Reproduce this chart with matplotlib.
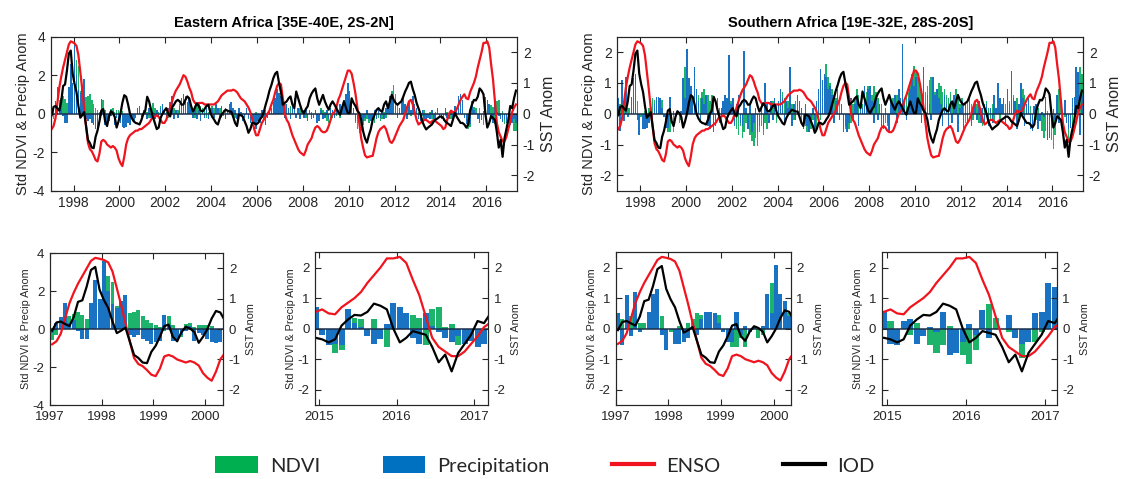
import numpy as np
import matplotlib
matplotlib.use('Agg')
import matplotlib.pyplot as plt
from matplotlib.patches import Patch
from matplotlib.lines import Line2D

plt.rcParams['font.family'] = ['Liberation Sans', 'DejaVu Sans']

# 月值数据：1997年1月 - 2017年4月（每行一年）
start_year = 1997

enso = [
    -0.5, -0.4, -0.15, 0.35, 0.85, 1.2, 1.5, 1.75, 2.0, 2.25, 2.35, 2.32,
    2.28, 2.2, 1.9, 1.35, 0.8, 0.2, -0.4, -0.95, -1.15, -1.22, -1.35, -1.5,
    -1.55, -1.3, -0.9, -0.85, -0.9, -1.0, -1.05, -1.1, -1.05, -1.1, -1.2, -1.45,
    -1.6, -1.7, -1.4, -1.0, -0.8, -0.7, -0.65, -0.6, -0.55, -0.55, -0.5, -0.5,
    -0.45, -0.4, -0.35, -0.3, -0.2, -0.1, -0.1, -0.05, -0.1, -0.2, -0.3, -0.3,
    -0.2, 0.0, 0.2, 0.4, 0.6, 0.75, 0.85, 0.95, 1.1, 1.25, 1.2, 1.05,
    0.85, 0.7, 0.45, 0.35, 0.3, 0.35, 0.35, 0.35, 0.3, 0.3, 0.3, 0.3,
    0.3, 0.3, 0.35, 0.4, 0.5, 0.6, 0.65, 0.7, 0.75, 0.75, 0.75, 0.78,
    0.75, 0.7, 0.6, 0.5, 0.45, 0.4, 0.3, 0.2, 0.05, -0.2, -0.5, -0.7,
    -0.7, -0.5, -0.3, -0.2, -0.1, 0.0, 0.1, 0.3, 0.45, 0.7, 0.9, 1.0,
    0.95, 0.5, 0.0, -0.2, -0.3, -0.5, -0.7, -0.85, -1.0, -1.15, -1.25, -1.3,
    -1.35, -1.2, -1.0, -0.9, -0.8, -0.6, -0.45, -0.4, -0.45, -0.55, -0.6, -0.6,
    -0.55, -0.4, -0.2, 0.0, 0.05, 0.2, 0.45, 0.6, 0.8, 1.0, 1.2, 1.4,
    1.4, 1.3, 1.0, 0.65, 0.2, -0.3, -0.8, -1.1, -1.35, -1.42, -1.4, -1.38,
    -1.37, -1.1, -0.8, -0.6, -0.5, -0.45, -0.4, -0.5, -0.7, -0.9, -0.95, -0.85,
    -0.7, -0.55, -0.4, -0.3, -0.2, 0.0, 0.2, 0.4, 0.45, 0.3, 0.05, -0.2,
    -0.35, -0.3, -0.25, -0.2, -0.2, -0.25, -0.3, -0.25, -0.2, -0.25, -0.3, -0.35,
    -0.4, -0.5, -0.45, -0.2, 0.0, 0.1, 0.05, 0.05, 0.15, 0.3, 0.45, 0.55,
    0.63, 0.5, 0.47, 0.7, 0.85, 1.0, 1.2, 1.5, 1.75, 2.0, 2.3, 2.3,
    2.35, 2.15, 1.6, 1.1, 0.4, -0.3, -0.6, -0.75, -0.9, -0.9, -0.75, -0.5,
    -0.25, 0.05, 0.2, 0.3,
]

iod = [
    -0.05, 0.22, 0.25, 0.17, 0.1, 0.4, 0.9, 0.95, 1.4, 1.95, 2.05, 1.3,
    0.96, 0.7, 0.25, -0.13, -0.05, 0.05, -0.4, -0.85, -0.95, -1.1, -1.12, -0.75,
    -0.55, -0.25, 0.1, 0.15, -0.25, -0.4, -0.1, 0.08, 0.02, -0.1, -0.45, -0.25,
    0.0, 0.35, 0.6, 0.55, 0.3, 0.0, -0.15, -0.25, -0.3, -0.32, -0.35, -0.2,
    0.0, 0.1, 0.55, 0.4, 0.13, -0.1, -0.3, -0.5, -0.45, -0.14, 0.0, 0.1,
    0.18, 0.0, -0.09, 0.2, 0.29, 0.4, 0.45, 0.4, 0.29, 0.3, 0.45, 0.56,
    0.5, 0.25, 0.07, 0.2, 0.34, 0.25, 0.1, 0.07, 0.15, 0.25, 0.29, 0.05,
    -0.1, -0.19, -0.3, -0.35, -0.15, -0.03, 0.05, 0.13, 0.1, 0.07, 0.07, -0.1,
    -0.3, -0.4, -0.03, -0.05, -0.09, -0.25, -0.4, -0.62, -0.5, -0.3, -0.3, -0.35,
    -0.3, -0.19, -0.1, 0.05, 0.29, 0.5, 0.75, 0.93, 1.15, 1.3, 1.36, 1.0,
    0.7, 0.29, 0.35, 0.4, 0.5, 0.56, 0.3, 0.18, 0.72, 0.5, 0.29, 0.1,
    0.02, 0.15, 0.24, 0.5, 0.65, 0.75, 0.82, 0.5, 0.29, 0.45, 0.61, 0.4,
    0.25, 0.13, 0.3, 0.4, 0.3, 0.18, 0.05, -0.03, 0.2, 0.4, 0.2, 0.02,
    0.02, 0.5, 0.35, 0.25, 0.1, 0.02, -0.2, -0.57, -0.8, -0.94, -0.7, -0.51,
    -0.2, -0.03, 0.12, 0.18, 0.1, 0.07, 0.3, 0.4, 0.18, 0.4, 0.61, 0.45,
    0.35, 0.29, 0.35, 0.4, 0.55, 0.72, 0.85, 1.0, 1.04, 0.8, 0.61, 0.35,
    0.18, 0.0, -0.25, -0.4, -0.51, -0.45, -0.4, -0.35, -0.25, -0.19, -0.15, -0.1,
    -0.09, -0.15, -0.25, -0.3, -0.35, -0.4, -0.2, 0.02, -0.1, -0.2, -0.3, -0.3,
    -0.35, -0.45, -0.35, 0.1, 0.3, 0.45, 0.43, 0.55, 0.82, 0.75, 0.63, 0.0,
    -0.45, -0.3, -0.08, -0.14, -0.2, -0.6, -1.1, -0.85, -1.4, -0.8, -0.5, -0.2,
    0.25, 0.18, 0.5, 0.75,
]

east_ndvi = [
    -0.55, -0.3, 0.3, 0.2, 0.7, 0.8, 0.9, 0.75, 0.55, 0.2, 0.3, 1.0,
    0.9, 2.8, 2.5, 1.2, 0.6, 0.4, 0.85, 0.9, 1.0, 0.7, 0.5, 0.3,
    0.2, 0.1, -0.1, 0.7, 0.2, -0.2, -0.4, 0.25, 0.3, 0.1, 0.2, 0.2,
    0.2, 0.15, -0.1, -0.2, -0.4, -0.3, -0.2, -0.4, -0.2, 0.1, 0.2, -0.1,
    0.2, 0.3, 0.1, -0.2, 0.3, 0.55, 0.3, 0.2, 0.1, 0.4, 0.3, 0.2,
    0.1, -0.2, 0.5, 0.45, 0.3, 0.1, 0.2, 0.5, 0.4, 0.3, 0.2, 0.1,
    0.5, 0.4, 0.2, -0.2, 0.45, 0.5, 0.4, 0.3, 0.2, -0.2, 0.1, 0.3,
    0.4, 0.3, 0.2, 0.1, 0.3, 0.2, -0.1, 0.3, 0.2, 0.1, 0.2, 0.1,
    -0.2, -0.1, 0.2, 0.1, -0.3, -0.2, 0.1, -0.3, -0.4, -0.3, -0.2, 0.1,
    -0.3, -0.4, -0.2, 0.1, 0.2, -0.2, 0.2, 0.1, 0.3, 0.5, 0.3, 0.6,
    0.8, 0.7, 0.5, 0.3, 0.2, 0.4, 0.2, 0.1, -0.1, 0.2, 0.3, 0.1,
    0.2, -0.2, -0.3, 0.2, 0.1, -0.2, 0.1, -0.1, -0.2, 0.3, 0.2, 0.1,
    -0.4, -0.5, -0.3, -0.2, 0.1, -0.1, 0.2, -0.2, 0.4, 0.6, 0.5, 0.3,
    0.6, 0.8, 0.3, -0.5, -0.8, -1.0, -0.9, -0.6, -0.4, -0.3, -0.5, -0.4,
    -0.6, -0.5, -0.3, -0.2, -0.4, -0.3, 0.1, -0.2, 0.3, 0.6, 1.2, 1.5,
    1.0, 0.5, 0.3, 0.4, 0.5, 0.2, 0.4, 0.3, -0.1, 0.2, 0.3, 0.2,
    0.1, -0.2, -0.1, 0.2, -0.3, -0.2, 0.1, -0.3, -0.2, 0.1, 0.2, -0.1,
    -0.2, -0.3, -0.1, 0.1, -0.2, -0.3, -0.1, 0.2, 0.3, 0.2, 0.4, 0.5,
    0.0, -0.3, -0.8, -0.7, 0.1, 0.35, 0.3, -0.1, 0.3, -0.1, -0.6, 0.2,
    0.1, 0.3, 0.45, 0.35, -0.55, 0.65, 0.7, 0.05, 0.15, -0.55, -0.2, -0.1,
    -0.2, -0.3, -0.9, -0.9,
]

east_precip = [
    -0.2, 0.3, 0.65, 1.4, 0.3, 0.5, -0.1, -0.5, -0.5, 1.4, 2.6, 1.6,
    3.6, 2.0, 1.3, 1.1, 1.5, 1.8, -0.3, -0.4, -0.3, -0.5, -0.6, -0.8,
    -0.7, -0.6, 0.75, 0.2, -0.6, -0.5, -0.3, -0.1, 0.15, -0.6, -0.2, -0.3,
    -0.5, -0.7, -0.75, -0.7, -0.5, -0.6, -0.3, -0.4, -0.2, 0.3, 0.4, -0.3,
    0.2, 0.4, -0.3, 0.3, -0.2, 0.1, -0.3, 0.2, -0.2, 0.3, 0.5, 0.2,
    -0.2, 0.3, 0.6, 0.9, -0.3, 0.2, -0.2, 0.4, 0.8, 1.0, 0.9, 0.6,
    0.8, 0.3, -0.2, 0.4, -0.3, 0.2, -0.4, 0.2, -0.2, 0.3, -0.3, 0.2,
    0.3, -0.2, 0.5, 0.3, -0.3, 0.4, 0.2, -0.3, 0.2, 0.5, 0.6, 0.3,
    0.2, -0.3, 0.3, 0.1, -0.4, -0.2, 0.3, -0.2, -0.5, -0.3, -0.6, -0.8,
    -0.4, -0.5, 0.2, -0.3, -0.6, -0.2, 0.2, 0.3, 0.6, 0.8, 1.3, 1.1,
    0.9, 0.4, -0.2, 0.5, 0.3, -0.3, 0.4, 0.8, -0.2, 0.3, -0.3, 0.2,
    -0.2, 0.3, -0.4, 0.2, -0.3, -0.2, 0.2, -0.5, -0.4, 0.2, -0.3, -0.2,
    0.2, -0.3, 0.3, 0.2, -0.2, 0.4, 0.2, 0.5, 0.3, 0.7, 1.0, 1.6,
    1.2, 0.5, 0.3, -0.4, -0.3, -0.2, -0.3, -0.4, -0.2, 0.2, -0.3, -0.4,
    -0.3, 0.2, -0.3, 0.3, -0.2, 0.2, -0.3, 0.3, 0.4, 0.9, 1.0, 0.7,
    0.4, -0.2, 0.3, 0.6, 0.8, 0.5, -0.3, 0.6, 0.2, 0.9, 0.5, 0.3,
    -0.3, -0.4, 0.2, -0.3, -0.4, -0.2, -0.3, 0.2, -0.4, -0.3, 0.3, -0.2,
    -0.3, -0.4, 0.3, -0.2, -0.3, 0.2, -0.3, 0.4, 0.2, 0.9, 1.0, 0.7,
    -0.2, -0.55, -0.5, -0.55, 0.65, 0.2, 0.05, -0.25, -0.5, -0.35, 0.15, 0.85,
    0.7, 0.5, -0.3, -0.5, 0.5, 0.1, -0.1, -0.3, -0.45, -0.25, -0.5, -0.4,
    -0.6, -0.5, -0.3, -0.5,
]

south_ndvi = [
    0.3, 0.3, 0.8, 0.4, 0.1, 0.2, 0.2, 0.3, 0.65, 0.65, 0.4, -0.1,
    -0.1, -0.25, 0.1, 0.0, 0.2, 0.3, 0.5, 0.45, 0.2, 0.3, 0.2, 0.45,
    0.0, -0.1, -0.6, -0.6, -0.3, -0.6, -0.1, 0.0, -0.3, -0.2, 0.3, 1.5,
    0.6, 0.5, 0.9, 0.5, 1.0, 0.7, 0.6, 0.5, 0.7, 0.8, 0.5, 0.6,
    0.4, 0.6, 0.3, -0.2, 0.3, 0.2, -0.3, 0.4, 0.5, 0.3, 0.2, 0.4,
    0.3, -0.2, -0.5, -0.7, -0.4, -0.8, -0.6, -0.3, -0.5, -0.7, -0.9, -1.05,
    -0.8, -1.05, -0.6, -0.4, -0.7, -0.3, -0.5, -0.2, 0.2, 0.4, 0.3, -0.3,
    0.3, 0.6, 0.7, 0.5, 0.2, 0.4, 0.6, 0.3, -0.2, 0.4, 0.5, 0.3,
    -0.3, -0.5, -0.4, -0.6, -0.3, -0.5, -0.2, -0.4, -0.6, -0.3, -0.2, 0.4,
    0.9, 1.6, 1.2, 1.0, 0.8, 0.6, 0.5, 0.6, 0.4, 0.3, -0.2, -0.5,
    -0.4, -0.5, -0.3, 0.3, 0.5, 0.8, 0.6, 0.4, 0.3, 0.5, 0.7, 0.9,
    0.8, 0.6, 0.9, 0.7, 0.5, 0.2, 0.3, -0.2, -0.3, -0.4, -0.2, 0.3,
    0.5, 0.4, 0.6, 0.8, 0.3, 0.5, 0.4, 0.6, 0.7, 1.0, 1.3, 1.55,
    1.4, 1.2, 1.0, 0.8, 0.6, 0.7, 0.9, 1.1, 1.2, 0.9, 0.7, 0.8,
    1.0, 0.9, 0.7, 0.8, 0.6, 0.5, 0.7, 0.4, 0.6, 0.8, 0.5, 0.3,
    0.5, 0.3, -0.3, 0.4, 0.2, 0.3, -0.2, 0.4, 0.3, -0.3, 0.2, -0.4,
    0.3, 0.4, 0.2, -0.2, 0.3, -0.3, 0.2, 0.4, -0.2, 0.3, 0.5, 0.3,
    0.6, 0.4, 0.8, 0.6, 0.3, 0.5, -0.2, 0.4, 0.8, 0.6, 0.3, 0.0,
    0.25, -0.3, 0.0, -0.2, 0.2, -0.1, -0.55, -0.8, -0.55, 0.1, -0.4, -0.85,
    -1.15, -0.7, 0.1, 0.8, 0.35, 0.0, -0.1, -0.2, -0.95, -0.4, -0.45, -0.1,
    0.3, 0.5, 1.5, 1.3,
]

south_precip = [
    0.5, -0.55, 1.1, -0.25, 1.2, -0.1, 0.0, 0.55, 1.15, 1.3, -0.2, -0.7,
    0.0, -0.5, -0.5, -0.45, -0.3, 0.1, -0.2, 0.3, 0.55, 0.55, 0.5, 0.2,
    -0.1, -0.45, -0.45, 0.55, -0.2, 0.1, -0.1, 0.05, 0.0, 0.1, 1.15, 0.5,
    2.1, 1.15, 0.9, 0.4, 1.5, 0.8, 0.4, -0.3, 0.5, 0.3, 0.6, -0.4,
    -0.5, 0.3, -0.6, -0.4, 0.5, -0.3, 0.2, 0.4, 0.6, 0.5, 1.9, 0.3,
    0.5, -0.4, 0.3, 0.6, -0.3, -0.4, 2.05, 0.2, -0.5, 0.3, -0.6, -0.3,
    0.2, -0.6, -0.4, 0.3, -0.5, 1.0, 0.3, -0.3, 0.4, -0.2, 0.5, 0.3,
    0.4, 0.8, 0.5, -0.3, 0.4, 0.2, 1.5, -0.4, 0.3, -0.2, 0.6, 0.4,
    0.2, -0.5, 0.3, -0.4, -0.6, -0.3, 0.2, -0.5, 0.4, 0.8, 1.45, 1.1,
    1.3, 1.2, 0.8, 0.9, 0.6, -0.3, 0.4, 0.8, -0.2, 0.3, -0.6, -0.4,
    -0.6, -0.3, 0.5, -0.2, 0.3, 0.6, -0.4, 0.3, 0.2, 0.9, 0.4, 0.8,
    0.9, 0.4, -0.3, 0.6, -0.2, 0.3, -0.4, -0.5, 0.2, -0.3, -0.6, 0.4,
    0.3, 0.6, -0.3, 0.8, 0.5, 2.25, 0.3, -0.2, 0.5, 0.8, 1.2, 0.9,
    1.2, 0.5, 0.3, -0.3, 1.5, 0.2, 0.6, 0.3, -0.2, 1.2, 0.6, 0.8,
    0.5, 0.3, -0.4, 0.6, 0.3, -0.5, 0.4, -0.3, 0.6, 0.3, -0.6, 0.2,
    0.4, -0.5, 0.3, -0.3, 0.5, -0.4, 0.2, 0.3, -0.2, 0.4, -0.3, 0.2,
    -0.3, 0.3, -0.4, 0.2, -0.3, 0.6, 0.2, 1.0, 0.5, 0.3, 0.5, -0.4,
    0.8, 0.3, 1.4, 0.5, 0.4, -0.5, 0.3, 1.0, 0.5, -0.4, 0.3, 0.55,
    -0.5, -0.55, 0.25, 0.3, -0.5, -0.25, 0.05, -0.1, 0.55, -0.85, -0.8, -0.45,
    0.15, -0.2, 0.6, -0.3, 0.0, 0.0, 0.45, -0.3, -0.5, -0.45, 0.5, 0.55,
    1.5, 1.35, -0.7, 0.6,
]

titles = ['Eastern Africa [35E-40E, 2S-2N]', 'Southern Africa [19E-32E, 28S-20S]']
legend_labels = ['NDVI', 'Precipitation', 'ENSO', 'IOD']

GREEN = '#1db36b'
BLUE = '#1a73c2'
RED = '#f0141e'
TXT = '#262626'

t = start_year + (np.arange(len(enso)) + 0.5) / 12.0


def panel(ax, ndvi, precip, xlim, xticks, ylim, yticks, big):
    """画一个面板：柱状图 + 右轴上的 ENSO / IOD 曲线"""
    fs_tick = 10 if big else 9.5
    fs_lab = 10.5 if big else 7.8
    w = (0.8 if big else 0.92) / 12  # 一个月宽，两组重叠
    ax.bar(t, ndvi, width=w, color=GREEN, linewidth=0)
    ax.bar(t, precip, width=w, color=BLUE, linewidth=0)
    ax.axhline(0, color='#1c2f4a', lw=1.1, zorder=3)
    ax.set_xlim(xlim)
    ax.set_ylim(ylim)
    ax.set_xticks(xticks)
    ax.set_xticklabels([str(x) for x in xticks])
    ax.set_yticks(yticks)
    ax.set_yticklabels(['%g' % v for v in yticks])
    ax.tick_params(direction='in', length=4, width=0.8, labelsize=fs_tick,
                   colors=TXT, top=True, pad=4)
    ax.set_ylabel('Std NDVI & Precip Anom', fontsize=fs_lab, color=TXT,
                  labelpad=2 if big else 1)

    ax2 = ax.twinx()
    ax2.plot(t, enso, color=RED, lw=1.6)
    ax2.plot(t, iod, color='black', lw=1.6)
    ax2.set_ylim(-2.5, 2.5)
    ax2.set_yticks([-2, -1, 0, 1, 2])
    ax2.tick_params(direction='in', length=4, width=0.8, labelsize=fs_tick,
                    colors=TXT, pad=4)
    ax2.set_ylabel('SST Anom', fontsize=fs_lab + (1 if big else 0), color=TXT,
                   labelpad=4)
    for a in (ax, ax2):
        for s in a.spines.values():
            s.set_color(TXT)
            s.set_linewidth(0.8)
    return ax2


def main():
    plt.rcParams['axes.unicode_minus'] = False
    fig = plt.figure(figsize=(11.26, 4.79), dpi=100)
    W, H = 1126.0, 479.0

    def box(l, r, top, bot):
        return [l / W, 1 - bot / H, (r - l) / W, (bot - top) / H]

    # 上面两幅长时间序列
    ax_e = fig.add_axes(box(50.7, 517.3, 36.7, 190.7))
    panel(ax_e, east_ndvi, east_precip, (1997.0, 2017.35),
          list(range(1998, 2017, 2)), (-4, 4), [-4, -2, 0, 2, 4], True)
    ax_e.set_title(titles[0], fontsize=10.5, fontweight='bold', color='black', pad=7)

    ax_s = fig.add_axes(box(617.3, 1083.3, 36.7, 190.7))
    panel(ax_s, south_ndvi, south_precip, (1997.0, 2017.35),
          list(range(1998, 2017, 2)), (-2.5, 2.5), [-2, -1, 0, 1, 2], True)
    ax_s.set_title(titles[1], fontsize=10.5, fontweight='bold', color='black', pad=7)

    # 下面四幅局部放大
    ax = fig.add_axes(box(50.0, 223.3, 253.3, 405.0))
    panel(ax, east_ndvi, east_precip, (1997.0, 2000.35), [1997, 1998, 1999, 2000],
          (-4, 4), [-4, -2, 0, 2, 4], False)
    ax = fig.add_axes(box(315.0, 488.3, 252.3, 405.0))
    panel(ax, east_ndvi, east_precip, (2014.95, 2017.18), [2015, 2016, 2017],
          (-2.5, 2.5), [-2, -1, 0, 1, 2], False)
    ax = fig.add_axes(box(615.7, 790.7, 252.3, 405.0))
    panel(ax, south_ndvi, south_precip, (1997.0, 2000.32), [1997, 1998, 1999, 2000],
          (-2.5, 2.5), [-2, -1, 0, 1, 2], False)
    ax = fig.add_axes(box(881.7, 1056.7, 252.3, 405.0))
    panel(ax, south_ndvi, south_precip, (2014.93, 2017.15), [2015, 2016, 2017],
          (-2.5, 2.5), [-2, -1, 0, 1, 2], False)

    # 图例
    handles = [Patch(facecolor='#00b050'), Patch(facecolor='#0070c0'),
               Line2D([], [], color=RED, lw=3), Line2D([], [], color='black', lw=3)]
    fig.legend(handles, legend_labels, loc='center', bbox_to_anchor=(0.484, 0.028),
               ncol=4, frameon=False, prop={'family': 'Lato', 'size': 14.5},
               handlelength=2.1, handleheight=0.9, handletextpad=0.6,
               columnspacing=3.1, labelcolor=TXT)

    fig.savefig('out.png', dpi=100)


if __name__ == '__main__':
    main()
